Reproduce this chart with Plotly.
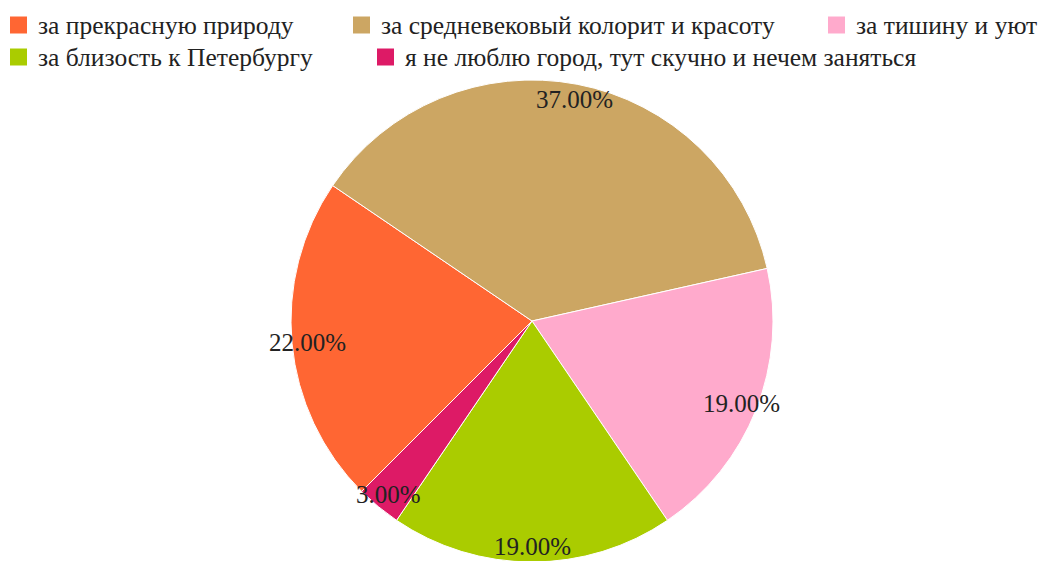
import math
import plotly.graph_objects as go

labels = [
    "за прекрасную природу",
    "за средневековый колорит и красоту",
    "за тишину и уют",
    "за близость к Петербургу",
    "я не люблю город, тут скучно и нечем заняться",
]
values = [22, 37, 19, 19, 3]
colors = ["#FF6633", "#CCA663", "#FFAACC", "#AACC00", "#DD1A66"]
rotation = 225  # start angle of the first slice, degrees clockwise from 12 o'clock

FONT = "Liberation Serif, Times New Roman, serif"
TXT = "#222222"
FS = 25
FS_LEG = 25.5

# figure geometry (pixels, figure coordinates; page adds an 8px body margin)
W, H = 1046, 580
cx_px, cy_px, R = 524, 313, 241
R_LABEL = 225

# legend layout (pixel positions of swatch left edge and row centre)
leg_x = [2, 345, 820, 2, 369]
leg_y = [17, 17, 17, 49, 49]
SW = 17
GAP = 10


def px(x):
    return x / W


def py(y):
    return 1 - y / H


fig = go.Figure(go.Pie(
    labels=labels,
    values=values,
    marker=dict(colors=colors, line=dict(color="#FFFFFF", width=1)),
    sort=False,
    direction="clockwise",
    rotation=rotation,
    textinfo="none",
    hoverinfo="label+percent",
    showlegend=False,
    domain=dict(x=[px(cx_px - R), px(cx_px + R)], y=[py(cy_px + R), py(cy_px - R)]),
))

total = sum(values)
ann = []
shapes = []
acc = 0
for v in values:
    mid = rotation + (acc + v / 2) / total * 360
    acc += v
    a = math.radians(mid)
    x = cx_px + R_LABEL * math.sin(a)
    y = cy_px - R_LABEL * math.cos(a)
    ann.append(dict(
        x=px(x), y=py(y), xref="paper", yref="paper",
        text=f"{v / total * 100:.2f}%", showarrow=False,
        font=dict(family=FONT, size=FS, color=TXT),
        xanchor="center", yanchor="middle",
    ))

for lab, col, lx, ly in zip(labels, colors, leg_x, leg_y):
    shapes.append(dict(
        type="rect", xref="paper", yref="paper",
        x0=px(lx), x1=px(lx + SW), y0=py(ly + SW / 2), y1=py(ly - SW / 2),
        fillcolor=col, line=dict(width=0),
    ))
    ann.append(dict(
        x=px(lx + SW + GAP - 1), y=py(ly), xref="paper", yref="paper",
        text=lab, showarrow=False,
        font=dict(family=FONT, size=FS_LEG, color=TXT),
        xanchor="left", yanchor="middle",
    ))

fig.update_layout(
    width=W, height=H,
    margin=dict(l=0, r=0, t=0, b=0),
    paper_bgcolor="white",
    plot_bgcolor="white",
    font=dict(family=FONT, size=FS, color=TXT),
    annotations=ann,
    shapes=shapes,
    showlegend=False,
)

fig.write_html("out.html")
